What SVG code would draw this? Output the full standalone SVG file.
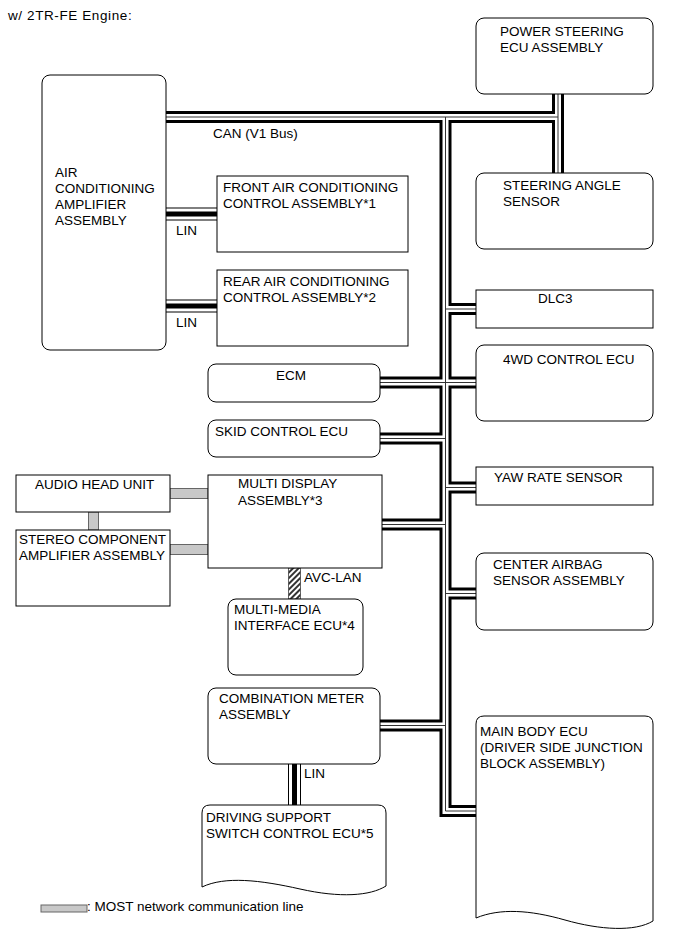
<svg xmlns="http://www.w3.org/2000/svg" xmlns:xlink="http://www.w3.org/1999/xlink" width="690" height="951" viewBox="0 0 690 951">
<style>
text{font-family:"Liberation Sans",Arial,sans-serif;font-size:13.5px;fill:#000}
.box{fill:#fff;stroke:#000;stroke-width:1}
.canO{fill:none;stroke:#000;stroke-width:12}
.canW{fill:none;stroke:#fff;stroke-width:6}
.canC{fill:none;stroke:#333;stroke-width:1}
.linO{fill:none;stroke:#000;stroke-width:13}
.linW{fill:none;stroke:#fff;stroke-width:11}
.linC{fill:none;stroke:#000;stroke-width:5}
.most{fill:#c8c8c8;stroke:#666;stroke-width:1}
</style>
<defs>
<path id="canPaths" d="M166 117 H558 M558 93 V173 M445.5 117 V811 H476 M380 382.5 H476 M445.5 309 H476 M380 438.5 H445.5 M445.5 487.5 H476 M382 524.5 H445.5 M445.5 593.5 H476 M380 725.5 H445.5"/>
<path id="linPaths" d="M166 214 H217 M166 306 H217 M294.5 764 V805"/>
<pattern id="hatch" width="4" height="4" patternUnits="userSpaceOnUse" patternTransform="rotate(45)">
<rect width="4" height="4" fill="#fff"/>
<line x1="1" y1="0" x2="1" y2="4" stroke="#000" stroke-width="1.6"/>
</pattern>
</defs>

<text x="8" y="20" font-size="15.5" letter-spacing="0.6">w/ 2TR-FE Engine:</text>

<g id="connectors">
<use xlink:href="#canPaths" class="canO"/>
<use xlink:href="#canPaths" class="canW"/>
<use xlink:href="#canPaths" class="canC"/>
<use xlink:href="#linPaths" class="linO"/>
<use xlink:href="#linPaths" class="linW"/>
<use xlink:href="#linPaths" class="linC"/>
<rect class="most" x="170" y="488.5" width="38" height="10"/>
<rect class="most" x="88.5" y="512" width="10" height="18"/>
<rect class="most" x="170" y="544.5" width="38" height="10"/>
<rect x="288.5" y="568" width="12" height="31" fill="url(#hatch)" stroke="#444" stroke-width="0.8"/>
<text x="213" y="138">CAN (V1 Bus)</text>
<text x="176" y="235">LIN</text>
<text x="176" y="327">LIN</text>
<text x="304" y="582">AVC-LAN</text>
<text x="304" y="778">LIN</text>
</g>

<g id="power-steering">
<rect class="box" x="476" y="18" width="177" height="76" rx="8"/>
<text x="500" y="36">POWER STEERING</text>
<text x="500" y="52">ECU ASSEMBLY</text>
</g>
<g id="ac-amplifier">
<rect class="box" x="42" y="75" width="124" height="275" rx="8"/>
<text x="55" y="177">AIR</text>
<text x="55" y="193">CONDITIONING</text>
<text x="55" y="209">AMPLIFIER</text>
<text x="55" y="225">ASSEMBLY</text>
</g>
<g id="front-ac">
<rect class="box" x="217" y="176" width="191" height="76"/>
<text x="223" y="192">FRONT AIR CONDITIONING</text>
<text x="223" y="208">CONTROL ASSEMBLY*1</text>
</g>
<g id="rear-ac">
<rect class="box" x="217" y="270" width="191" height="76"/>
<text x="223" y="286">REAR AIR CONDITIONING</text>
<text x="223" y="302">CONTROL ASSEMBLY*2</text>
</g>
<g id="steering-angle">
<rect class="box" x="476" y="173" width="177" height="76" rx="8"/>
<text x="503" y="190">STEERING ANGLE</text>
<text x="503" y="206">SENSOR</text>
</g>
<g id="dlc3">
<rect class="box" x="476" y="290" width="177" height="38"/>
<text x="538" y="303">DLC3</text>
</g>
<g id="ecu-4wd">
<rect class="box" x="476" y="345" width="177" height="76" rx="8"/>
<text x="503" y="364">4WD CONTROL ECU</text>
</g>
<g id="ecm">
<rect class="box" x="208" y="364" width="172" height="38" rx="8"/>
<text x="276" y="380">ECM</text>
</g>
<g id="skid">
<rect class="box" x="208" y="420" width="172" height="37" rx="8"/>
<text x="215" y="436">SKID CONTROL ECU</text>
</g>
<g id="yaw-rate">
<rect class="box" x="476" y="467" width="177" height="38"/>
<text x="494" y="482">YAW RATE SENSOR</text>
</g>
<g id="audio-head">
<rect class="box" x="16" y="475" width="154" height="37"/>
<text x="35" y="489">AUDIO HEAD UNIT</text>
</g>
<g id="multi-display">
<rect class="box" x="208" y="475" width="174" height="93"/>
<text x="238" y="488">MULTI DISPLAY</text>
<text x="238" y="505">ASSEMBLY*3</text>
</g>
<g id="stereo-amp">
<rect class="box" x="16" y="530" width="154" height="76"/>
<text x="19" y="544">STEREO COMPONENT</text>
<text x="19" y="560">AMPLIFIER ASSEMBLY</text>
</g>
<g id="multi-media">
<rect class="box" x="228" y="599" width="135" height="76" rx="8"/>
<text x="234" y="614">MULTI-MEDIA</text>
<text x="234" y="630">INTERFACE ECU*4</text>
</g>
<g id="center-airbag">
<rect class="box" x="476" y="553" width="177" height="77" rx="8"/>
<text x="493" y="569">CENTER AIRBAG</text>
<text x="493" y="585">SENSOR ASSEMBLY</text>
</g>
<g id="combination-meter">
<rect class="box" x="208" y="688" width="172" height="76" rx="8"/>
<text x="219" y="703">COMBINATION METER</text>
<text x="219" y="719">ASSEMBLY</text>
</g>
<g id="main-body">
<path class="box" d="M484 716 H645 Q653 716 653 724 V921 C 635 932, 600 930, 565 920 C 530 910, 500 908, 476 918 V724 Q476 716 484 716 Z"/>
<text x="480" y="736">MAIN BODY ECU</text>
<text x="480" y="752">(DRIVER SIDE JUNCTION</text>
<text x="480" y="768">BLOCK ASSEMBLY)</text>
</g>
<g id="driving-support">
<path class="box" d="M210 805 H378 Q386 805 386 813 V886 C 370 896, 340 898, 300 889 C 260 880, 225 876, 202 887 V813 Q202 805 210 805 Z"/>
<text x="206" y="822">DRIVING SUPPORT</text>
<text x="206" y="838">SWITCH CONTROL ECU*5</text>
</g>

<g id="legend">
<rect class="most" x="41" y="905" width="46" height="7"/>
<text x="87" y="911">: MOST network communication line</text>
</g>
</svg>
